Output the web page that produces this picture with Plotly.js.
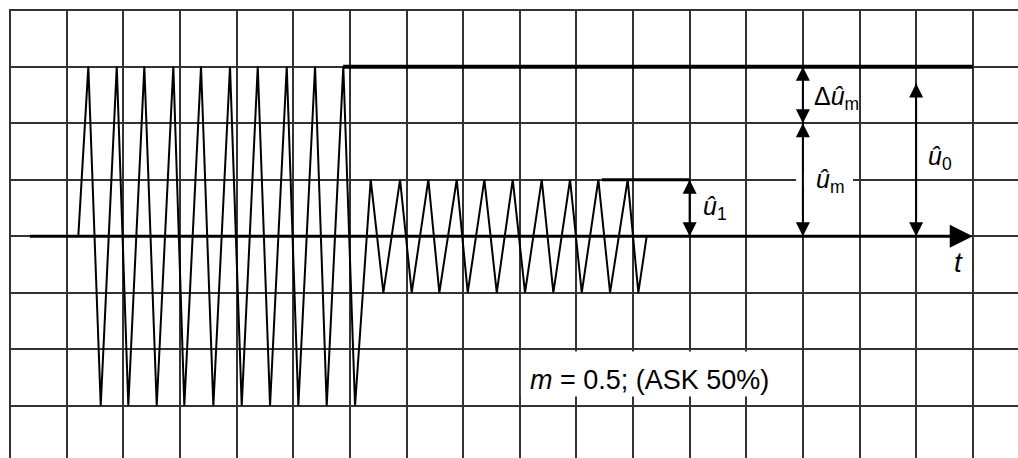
<!DOCTYPE html>
<html>
<head>
<meta charset="utf-8">
<script src="https://cdn.plot.ly/plotly-3.0.1.min.js"></script>
<style>html,body{margin:0;padding:0;background:#fff;}#chart{width:1018px;height:458px;}</style>
</head>
<body>
<div id="chart"></div>
<script>
// ASK-modulated carrier (m = 0.5): time in grid units, amplitude in grid units
const signalT = [1.204, 1.381, 1.600, 1.883, 2.087, 2.370, 2.589, 2.882, 3.076, 3.371, 3.589,
                 3.883, 4.090, 4.373, 4.590, 4.885, 5.090, 5.385, 5.591, 5.884, 6.091,
                 6.368, 6.591, 6.886, 7.092, 7.386, 7.580, 7.887, 8.081, 8.375, 8.594,
                 8.876, 9.093, 9.388, 9.593, 9.888, 10.095, 10.388, 10.595, 10.906, 11.094, 11.242];
const signalU = [0, 3, -3, 3, -3, 3, -3, 3, -3, 3, -3,
                 3, -3, 3, -3, 3, -3, 3, -3, 3, -3,
                 1, -1, 1, -1, 1, -1, 1, -1, 1, -1,
                 1, -1, 1, -1, 1, -1, 1, -1, 1, -1, 0];
// envelope reference levels
const u0LevelT = [5.88, 17.0];
const u0LevelU = [3, 3];
const u1LevelT = [10.45, 12.0];
const u1LevelU = [1, 1];
// time axis
const axisT = [0.35, 16.7];
const axisU = [0, 0];
// amplitude marker arrows (vertical segments, null separates)
const arrowLineT = [12, 12, null, 14, 14, null, 16, 16];
const arrowLineU = [1, 0, null, 3, 0, null, 2.70, 0];
// arrowhead tips
const headT = [12, 12, 14, 14, 14, 14, 16, 16];
const headU = [1, 0, 3, 2, 2, 0, 2.70, 0];
const headSym = ['arrow-up', 'arrow-down', 'arrow-up', 'arrow-down', 'arrow-up', 'arrow-down', 'arrow-up', 'arrow-down'];
const axisHeadT = [17];
const axisHeadU = [0];

const labelTexts = {
  u1: '<i>û</i><sub>1</sub>',
  um: '<i>û</i><sub>m</sub>',
  dum: 'Δ<i>û</i><sub>m</sub>',
  u0: '<i>û</i><sub>0</sub>',
  t: '<i>t</i>',
  note: '<i>m</i> = 0.5; (ASK 50%)'
};

const FONT = 'Liberation Sans, Arial, Helvetica, sans-serif';

const traces = [
  {x: signalT, y: signalU, mode: 'lines', line: {color: '#000', width: 2}, hoverinfo: 'skip'},
  {x: u0LevelT, y: u0LevelU, mode: 'lines', line: {color: '#000', width: 4}, hoverinfo: 'skip'},
  {x: u1LevelT, y: u1LevelU, mode: 'lines', line: {color: '#000', width: 3}, hoverinfo: 'skip'},
  {x: axisT, y: axisU, mode: 'lines', line: {color: '#000', width: 3}, hoverinfo: 'skip'},
  {x: arrowLineT, y: arrowLineU, mode: 'lines', line: {color: '#000', width: 2}, connectgaps: false, hoverinfo: 'skip'},
  {x: headT, y: headU, mode: 'markers', cliponaxis: false, hoverinfo: 'skip',
   marker: {symbol: headSym, size: 14, color: '#000', line: {width: 0}}},
  {x: axisHeadT, y: axisHeadU, mode: 'markers', cliponaxis: false, hoverinfo: 'skip',
   marker: {symbol: 'arrow-right', size: 23, color: '#000', line: {width: 0}}}
];

function lbl(x, y, text, size, xanchor) {
  return {x: x, y: y, xref: 'x', yref: 'y', text: text, showarrow: false,
    xanchor: xanchor || 'left', yanchor: 'middle', font: {family: FONT, size: size, color: '#000'}};
}

const annotations = [
  lbl(12.20, 0.50, labelTexts.u1, 25),
  lbl(14.20, 0.97, labelTexts.um, 25),
  lbl(14.16, 2.44, labelTexts.dum, 25),
  lbl(16.175, 1.38, labelTexts.u0, 25),
  lbl(16.74, -0.46, labelTexts.t, 28, 'center'),
  lbl(11.30, -2.55, labelTexts.note, 27, 'center')
];

const shapes = [
  {type: 'rect', xref: 'x', yref: 'y', x0: 13.88, x1: 14.885, y0: 0.88, y1: 1.12,
   fillcolor: '#fff', line: {width: 0}, layer: 'between'},
  {type: 'rect', xref: 'x', yref: 'y', x0: 9.02, x1: 13.77, y0: -2.84, y1: -2.04,
   fillcolor: '#fff', line: {width: 0}, layer: 'between'}
];

const layout = {
  width: 1018, height: 458,
  margin: {l: 9, r: 0, t: 9, b: 0},
  paper_bgcolor: '#fff', plot_bgcolor: '#fff',
  showlegend: false,
  xaxis: {range: [-0.02, 17.799], dtick: 1, tick0: 0, showgrid: true, gridcolor: '#333',
          gridwidth: 2, zeroline: false, showticklabels: false, ticks: '', showline: false, fixedrange: true},
  yaxis: {range: [-3.927, 4.02], dtick: 1, tick0: 0, showgrid: true, gridcolor: '#333',
          gridwidth: 2, zeroline: false, showticklabels: false, ticks: '', showline: false, fixedrange: true},
  annotations: annotations,
  shapes: shapes
};

Plotly.newPlot('chart', traces, layout, {displayModeBar: false, staticPlot: true});
</script>
</body>
</html>
